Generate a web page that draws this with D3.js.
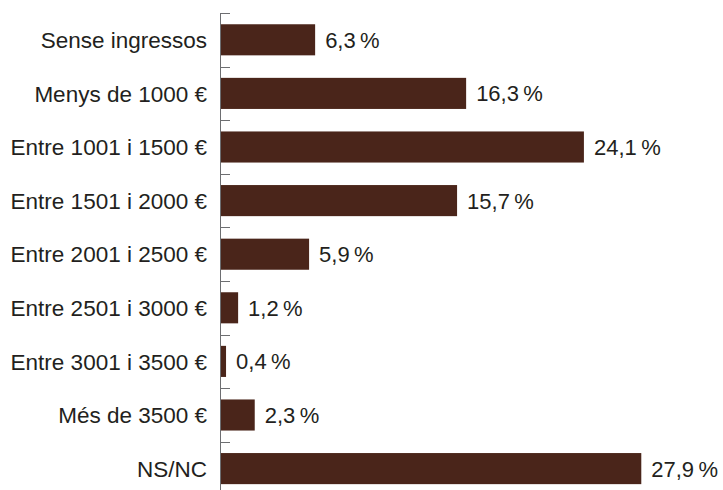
<!DOCTYPE html>
<html>
<head>
<meta charset="utf-8">
<script src="https://cdn.jsdelivr.net/npm/d3@7"></script>
<style>
  html, body { margin: 0; padding: 0; background: #fff; }
  svg text { font-family: "Liberation Sans", Arial, Helvetica, sans-serif; }
</style>
</head>
<body>
<div id="chart"></div>
<script>
const categories = [
  'Sense ingressos',
  'Menys de 1000 €',
  'Entre 1001 i 1500 €',
  'Entre 1501 i 2000 €',
  'Entre 2001 i 2500 €',
  'Entre 2501 i 3000 €',
  'Entre 3001 i 3500 €',
  'Més de 3500 €',
  'NS/NC'
];
const values = [6.3, 16.3, 24.1, 15.7, 5.9, 1.2, 0.4, 2.3, 27.9];

const width = 723, height = 490;
const barColor = '#4a251a';
const textColor = '#231f20';
const axisColor = '#6d6e71';

const svg = d3.select('#chart').append('svg')
  .attr('width', width)
  .attr('height', height);

const x = d3.scaleLinear()
  .domain([0, 30])
  .range([220, 220 + 30 * 15.1]);

const y = d3.scaleBand()
  .domain(categories)
  .range([13, 13 + 9 * 53.6])
  .paddingInner(0.42)
  .paddingOuter(0.21);

const data = categories.map((c, i) => ({ name: c, value: values[i] }));

// axis line + boundary ticks
svg.append('line')
  .attr('x1', x(0) + 0.5).attr('x2', x(0) + 0.5)
  .attr('y1', y.range()[0]).attr('y2', y.range()[1])
  .attr('stroke', axisColor).attr('stroke-width', 1);

svg.selectAll('line.tick')
  .data(d3.range(categories.length + 1))
  .join('line')
    .attr('class', 'tick')
    .attr('x1', x(0))
    .attr('x2', x(0) + 10)
    .attr('y1', i => Math.round(y.range()[0] + i * y.step()) + 0.5)
    .attr('y2', i => Math.round(y.range()[0] + i * y.step()) + 0.5)
    .attr('stroke', axisColor)
    .attr('stroke-width', 1);

svg.selectAll('rect.bar')
  .data(data)
  .join('rect')
    .attr('class', 'bar')
    .attr('x', x(0) + 1)
    .attr('y', d => y(d.name))
    .attr('width', d => x(d.value) - x(0) - 1)
    .attr('height', y.bandwidth())
    .attr('fill', barColor);

// category labels
svg.selectAll('text.cat')
  .data(data)
  .join('text')
    .attr('class', 'cat')
    .attr('x', 207)
    .attr('y', d => y(d.name) + y.bandwidth() / 2)
    .attr('dy', '0.36em')
    .attr('text-anchor', 'end')
    .attr('fill', textColor)
    .style('font-size', '22.5px')
    .text(d => d.name);

// value labels
svg.selectAll('text.val')
  .data(data)
  .join('text')
    .attr('class', 'val')
    .attr('x', d => x(d.value) + 10)
    .attr('y', d => y(d.name) + y.bandwidth() / 2)
    .attr('dy', '0.36em')
    .attr('fill', textColor)
    .style('font-size', '22px')
    .text(d => d.value.toFixed(1).replace('.', ',') + '\u2009%');
</script>
</body>
</html>
